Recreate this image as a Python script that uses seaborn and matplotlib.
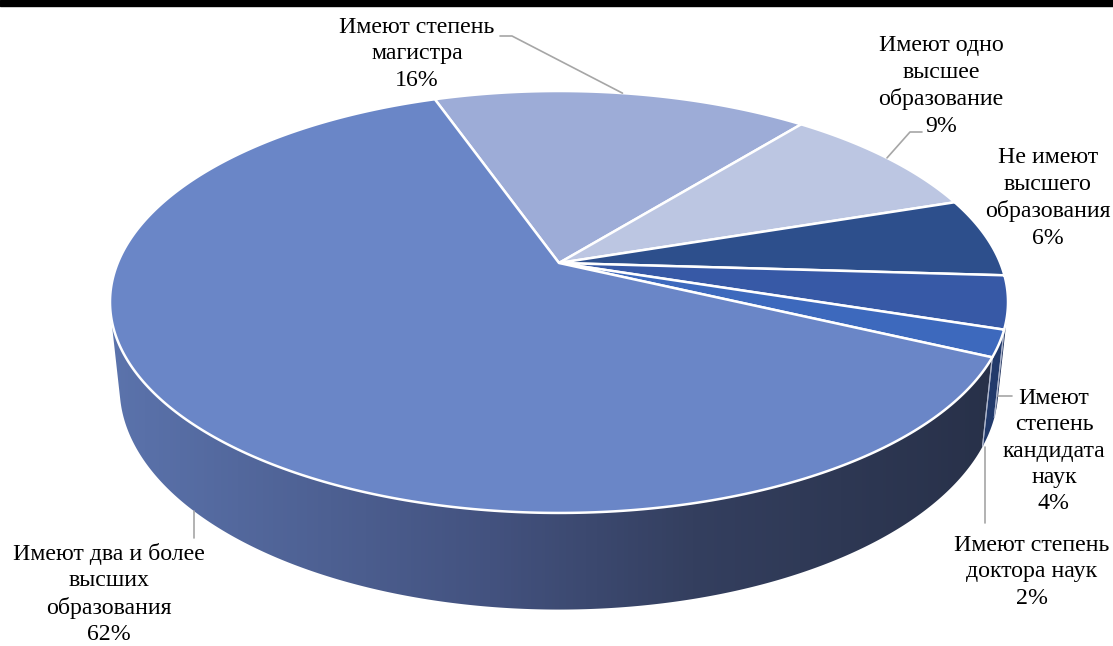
import numpy as np
import matplotlib
matplotlib.use("Agg")
import matplotlib.pyplot as plt
import seaborn as sns
from matplotlib.colors import LinearSegmentedColormap
from matplotlib.patches import Polygon

sns.set_style("white")
plt.rcParams['font.family'] = ['Liberation Serif', 'DejaVu Serif']

# data, clockwise from the top
labels = ['Имеют степень\nмагистра', 'Имеют одно\nвысшее\nобразование',
          'Не имеют\nвысшего\nобразования', 'Имеют\nстепень\nкандидата\nнаук',
          'Имеют степень\nдоктора наук', 'Имеют два и более\nвысших\nобразования']
values = [16, 9, 6, 4, 2, 62]
colors = ['#9DACD7', '#BCC6E2', '#2D4F8C', '#3759A6', '#3D69BD', '#6A86C7']
side_colors = ['#7F8DB8', '#9AA4C4', '#1E3563', '#1C2F5A', '#223A6B', None]
start = -19.3

# 3d view
phi = np.radians(27.5)
s, c = np.sin(phi), np.cos(phi)
D = 4.8
depth = 0.22
cx, cy = 559, 263


def proj(theta, h=0.0, F=1.0):
    th = np.radians(theta)
    u, v = np.sin(th), -np.cos(th)
    den = D - h * s - v * c
    return cx + F * u / den, cy - F * (h * c - v * s) / den


grid = np.linspace(0, 360, 3601)
F = 449 / np.max(np.abs(proj(grid)[0] - cx))

vis_lo = np.degrees(np.arccos(-1 / (D * c)))
vis_hi = 360 - vis_lo

fig = plt.figure(figsize=(11.13, 6.46), dpi=100)
ax = fig.add_axes([0, 0, 1, 1])
ax.set_xlim(0, 1113)
ax.set_ylim(646, 0)
ax.axis('off')
ax.axhspan(0, 6, color='black', zorder=10)

fracs = np.array(values) / sum(values) * 360
edges = start + np.concatenate([[0], np.cumsum(fracs)])

grad = LinearSegmentedColormap.from_list(
    'side', [(0, '#5B73AC'), (0.43, '#43527F'), (0.66, '#343F5F'), (1, '#283149')])

# side walls
for i in range(len(values)):
    a, b = edges[i], edges[i + 1]
    # shift into the visible range
    if b < vis_lo:
        a, b = a + 360, b + 360
    lo, hi = max(a, vis_lo), min(b, vis_hi)
    if hi <= lo:
        continue
    t = np.linspace(lo, hi, 300)
    tx, ty = proj(t, 0, F)
    bx, by = proj(t[::-1], -depth, F)
    pts = np.column_stack([np.concatenate([tx, bx]), np.concatenate([ty, by])])
    if side_colors[i] is None:
        poly = Polygon(pts, closed=True, facecolor='none', edgecolor='none')
        ax.add_patch(poly)
        x0, x1 = pts[:, 0].min(), pts[:, 0].max()
        y0, y1 = pts[:, 1].min(), pts[:, 1].max()
        img = ax.imshow(np.linspace(0, 1, 256)[None, :], cmap=grad, aspect='auto',
                        extent=[x0, x1, y1, y0], zorder=1)
        img.set_clip_path(poly)
    else:
        ax.add_patch(Polygon(pts, closed=True, facecolor=side_colors[i],
                             edgecolor='none', zorder=1))
    for e in (lo, hi):
        if vis_lo < e < vis_hi:
            ex, ey = proj(np.array([e, e]), np.array([0, -depth]), F)
            ax.plot(ex, ey, color='#AEB6CC', lw=0.8, zorder=2)

# top faces
for i in range(len(values)):
    t = np.linspace(edges[i], edges[i + 1], 300)
    tx, ty = proj(t, 0, F)
    pts = np.column_stack([np.concatenate([[cx], tx]), np.concatenate([[cy], ty])])
    ax.add_patch(Polygon(pts, closed=True, facecolor=colors[i], edgecolor='white',
                         lw=1.8, joinstyle='round', zorder=3))

# labels
mids = (edges[:-1] + edges[1:]) / 2
pct = [f'{v}%' for v in values]
text_pos = [(417, 54), (941, 86), (1048, 198), (1054, 451), (1032, 572), (109, 594)]
for i, (tx, ty) in enumerate(text_pos):
    ax.text(tx, ty, labels[i] + '\n' + pct[i], ha='center', va='center',
            fontsize=17.2, linespacing=1.34, color='black', zorder=5)

lc = '#A6A6A6'
ax_, ay_ = proj(mids[0], 0, F)
ax.plot([500, 512, ax_], [36, 36, ay_], color=lc, lw=1.2, zorder=4)
ax_, ay_ = proj(mids[1], 0, F)
ax.plot([922, 910, ax_], [132, 132, ay_], color=lc, lw=1.2, zorder=4)
ax_, ay_ = proj((max(edges[3], vis_lo) + edges[4]) / 2, -0.85 * depth, F)
ax.plot([1012, ax_], [ay_, ay_], color=lc, lw=1.2, zorder=4)
ax_, ay_ = proj(mids[4], -depth, F)
ax.plot([ax_ - 4, ax_ - 4], [523, ay_ + 15], color=lc, lw=1.2, zorder=4)
ax_, ay_ = proj(mids[5] + 360 if mids[5] < 0 else mids[5], -depth, F)
ax.plot([ax_, ax_], [538, ay_], color=lc, lw=1.2, zorder=4)

fig.savefig('out.png', dpi=100, facecolor='white')
